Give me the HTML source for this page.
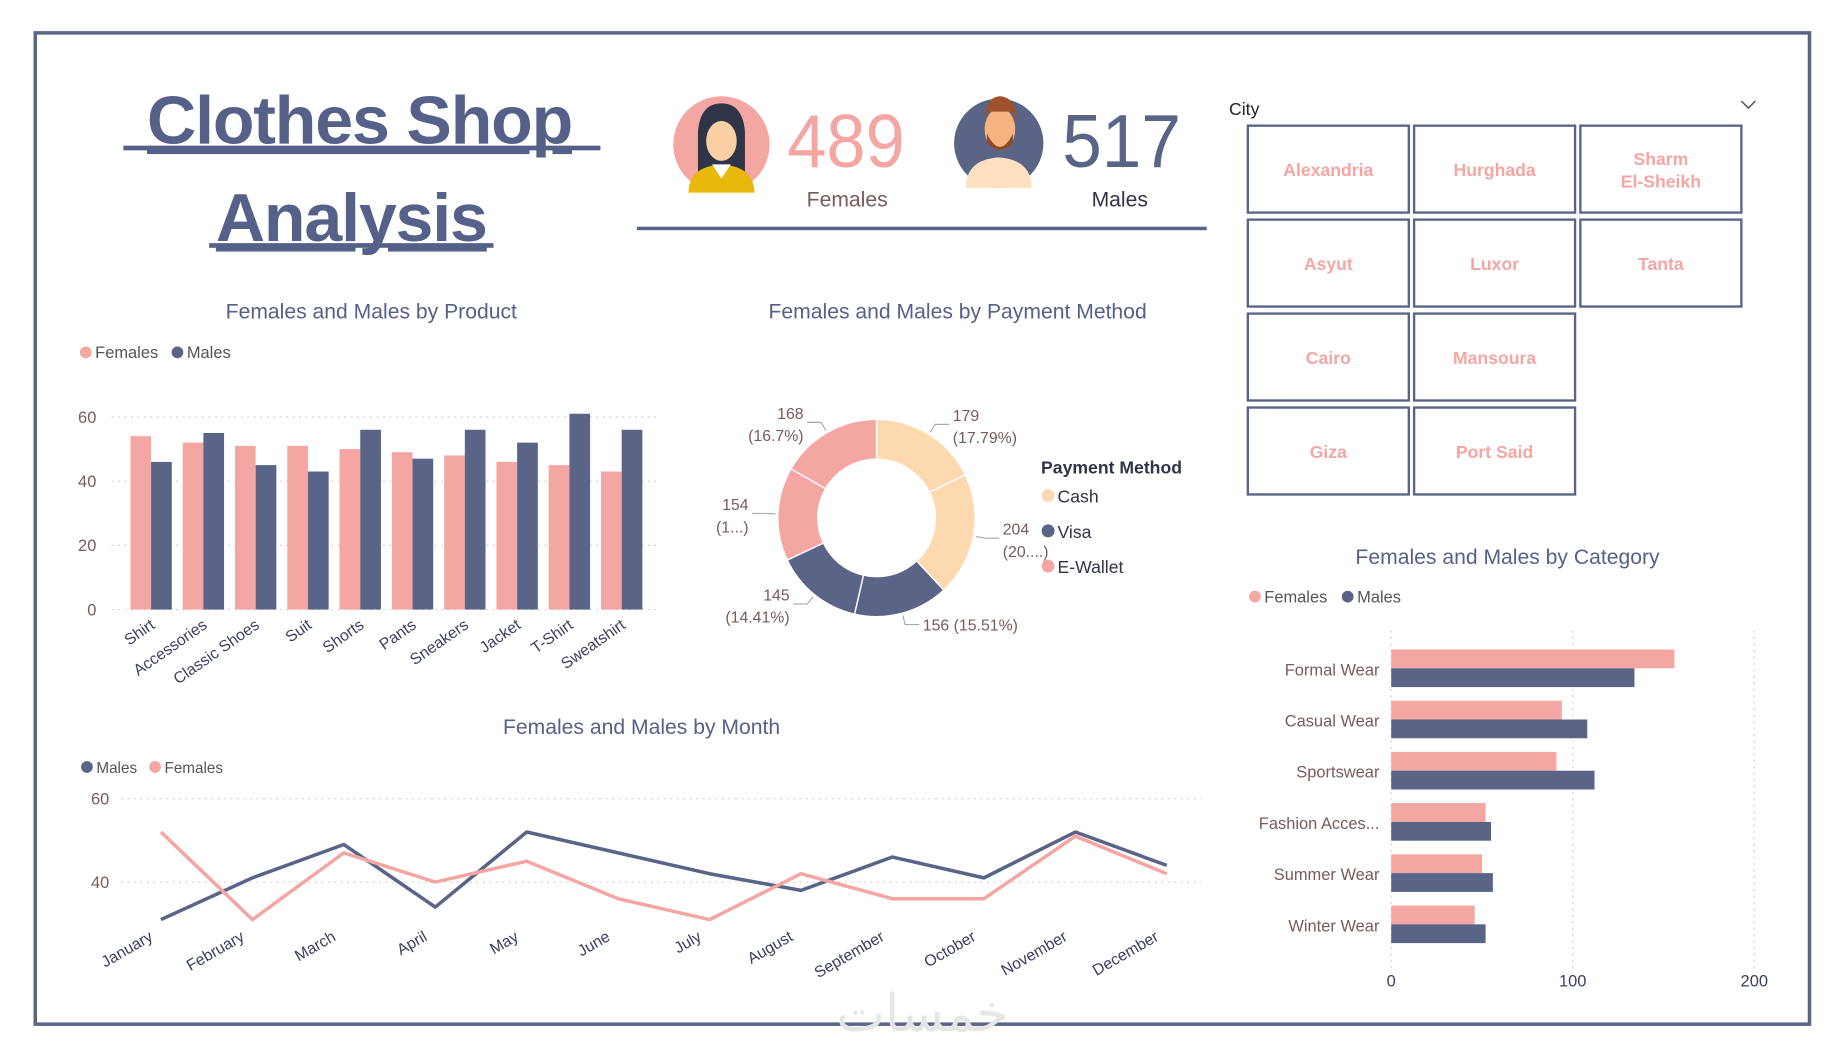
<!DOCTYPE html>
<html><head><meta charset="utf-8"><style>
html,body{margin:0;padding:0;background:#fff;width:1833px;height:1050px;overflow:hidden}
svg{display:block;font-family:"Liberation Sans","DejaVu Sans",sans-serif}
</style></head><body>
<svg id="s" width="1833" height="1050" viewBox="0 0 1560 894" preserveAspectRatio="none" xmlns="http://www.w3.org/2000/svg">
<rect x="30" y="28" width="1510" height="844" fill="none" stroke="#5a6487" stroke-width="3"/>
<g fill="#56618a" font-weight="bold" font-size="58" text-anchor="middle" text-decoration="underline" letter-spacing="-1">
<text x="306" y="122">Clothes Shop </text>
<text x="299" y="205">Analysis</text>
</g>
<rect x="105" y="124" width="406" height="4" fill="#56618a"/>
<rect x="178" y="207" width="242" height="4" fill="#56618a"/>
<g>
<circle cx="614" cy="123" r="41" fill="#f4a6a3"/>
<path d="M594 150 L594 112 Q596 88 614 88 Q632 88 634 112 L634 150 Z" fill="#2f3448"/>
<ellipse cx="614" cy="120" rx="13" ry="17" fill="#f9cfa3"/>
<path d="M586 164 Q586 142 614 140 Q642 142 642 164 Z" fill="#e8b80a"/>
<path d="M606 140 L614 152 L622 140 Z" fill="#fff"/>
</g>
<text x="670" y="142" font-size="64" fill="#f4a6a3" textLength="100" lengthAdjust="spacingAndGlyphs">489</text>
<text x="721" y="176" font-size="18" fill="#7b5a5a" text-anchor="middle">Females</text>
<g>
<circle cx="850" cy="122" r="38" fill="#5a6487"/>
<path d="M822 160 Q822 136 850 134 Q878 136 878 160 Z" fill="#fde0c0"/>
<ellipse cx="851" cy="110" rx="13" ry="18" fill="#f7b37e"/>
<path d="M838 104 Q838 82 852 82 Q866 84 865 104 L862 95 L840 95 Z" fill="#a0522d"/>
<path d="M840 114 Q851 136 862 114 L862 122 Q851 134 840 122 Z" fill="#8b4a2b"/>
</g>
<text x="904" y="142" font-size="64" fill="#5a6487" textLength="101" lengthAdjust="spacingAndGlyphs">517</text>
<text x="953" y="176" font-size="18" fill="#2f3448" text-anchor="middle">Males</text>
<rect x="542" y="193" width="485" height="3" fill="#5a6487"/>

<text x="1046" y="98" font-size="15" fill="#222">City</text>
<path d="M1482 86 L1488 92 L1494 86" fill="none" stroke="#555" stroke-width="1.3"/>
<g id="cities"></g>

<text x="316" y="271" font-size="18" fill="#56618a" text-anchor="middle">Females and Males by Product</text>
<g font-size="14" fill="#555">
<circle cx="73" cy="300" r="5" fill="#f4a6a3"/><text x="81" y="305">Females</text>
<circle cx="151" cy="300" r="5" fill="#5a6487"/><text x="159" y="305">Males</text>
</g>
<g id="prod"></g>

<text x="815" y="271" font-size="18" fill="#56618a" text-anchor="middle">Females and Males by Payment Method</text>
<g id="donut"></g>
<g font-size="15" fill="#2f3448">
<text x="886" y="403" font-weight="bold">Payment Method</text>
<circle cx="892" cy="422" r="5.5" fill="#fdd9b0"/><text x="900" y="428">Cash</text>
<circle cx="892" cy="452" r="5.5" fill="#5a6487"/><text x="900" y="458">Visa</text>
<circle cx="892" cy="482" r="5.5" fill="#f4a6a3"/><text x="900" y="488">E-Wallet</text>
</g>

<text x="546" y="625" font-size="18" fill="#56618a" text-anchor="middle">Females and Males by Month</text>
<g font-size="13" fill="#555">
<circle cx="74" cy="653" r="5" fill="#5a6487"/><text x="82" y="658">Males</text>
<circle cx="132" cy="653" r="5" fill="#f4a6a3"/><text x="140" y="658">Females</text>
</g>
<g id="month"></g>

<text x="1283" y="480" font-size="18" fill="#56618a" text-anchor="middle">Females and Males by Category</text>
<g font-size="14" fill="#555">
<circle cx="1068" cy="508" r="5" fill="#f4a6a3"/><text x="1076" y="513">Females</text>
<circle cx="1147" cy="508" r="5" fill="#5a6487"/><text x="1155" y="513">Males</text>
</g>
<g id="cat"></g>
<text x="785" y="878" font-size="44" fill="#e6e6e6" text-anchor="middle" font-family="'DejaVu Sans',sans-serif">خمسات</text>
</svg>
<script>
var NS='http://www.w3.org/2000/svg';
function mk(p,t,a,txt){var e=document.createElementNS(NS,t);for(var k in a)e.setAttribute(k,a[k]);if(txt!=null)e.textContent=txt;p.appendChild(e);return e;}

var cities=[['Alexandria','Hurghada','Sharm|El-Sheikh'],['Asyut','Luxor','Tanta'],['Cairo','Mansoura'],['Giza','Port Said']];
var productCats=['Shirt','Accessories','Classic Shoes','Suit','Shorts','Pants','Sneakers','Jacket','T-Shirt','Sweatshirt'];
var productFemales=[54,52,51,51,50,49,48,46,45,43];
var productMales=[46,55,45,43,56,47,56,52,61,56];
var productTicks=[0,20,40,60];
var payValues=[179,204,156,145,154,168];
var payMethods=['Cash','Cash','Visa','Visa','E-Wallet','E-Wallet'];
var payLabels=[['179','(17.79%)'],['204','(20....)'],['156 (15.51%)'],['145','(14.41%)'],['154','(1...)'],['168','(16.7%)']];
var months=['January','February','March','April','May','June','July','August','September','October','November','December'];
var monthMales=[31,41,49,34,52,47,42,38,46,41,52,44];
var monthFemales=[52,31,47,40,45,36,31,42,36,36,51,42];
var monthTicks=[40,60];
var catNames=['Formal Wear','Casual Wear','Sportswear','Fashion Acces...','Summer Wear','Winter Wear'];
var catFemales=[156,94,91,52,50,46];
var catMales=[134,108,112,55,56,52];
var catTicks=[0,100,200];

var cg=document.getElementById('cities');
cities.forEach(function(row,r){row.forEach(function(c,i){
 var x=1062+i*141.5,y=107+r*80;
 var g=mk(cg,'g',{});
 
 
 mk(g,'rect',{x:x,y:y,width:137,height:74,fill:'#fff',stroke:'#5a6487','stroke-width':2});
 var parts=c.split('|');
 parts.forEach(function(p,j){mk(g,'text',{x:x+68.5,y:y+43+(j-(parts.length-1)/2)*19,'font-size':15,'font-weight':'bold',fill:'#f4a6a3','text-anchor':'middle'},p);});
});});

var pg=document.getElementById('prod');
function py(v){return 519-v*(164/60);}
productTicks.forEach(function(t){
 var l=mk(pg,'line',{x1:95,x2:562,y1:py(t),y2:py(t),stroke:'#ccc','stroke-dasharray':'1.5 4'});
 
 var tx=mk(pg,'text',{x:82,y:py(t)+5,'font-size':14,fill:'#7b5a5a','text-anchor':'end'},t);
 
});
productCats.forEach(function(c,i){
 var x0=111+i*44.5,bw=17.6;
 var b1=mk(pg,'rect',{x:x0,y:py(productFemales[i]),width:bw,height:519-py(productFemales[i]),fill:'#f4a6a3'});
 
 var b2=mk(pg,'rect',{x:x0+bw,y:py(productMales[i]),width:bw,height:519-py(productMales[i]),fill:'#5a6487'});
 
 var cx=x0+bw+4;
 var t=mk(pg,'text',{x:cx,y:534,'font-size':13.5,fill:'#3b4060','text-anchor':'end',transform:'rotate(-35 '+cx+' 534)'},c);
 
});

var dg=document.getElementById('donut');
var cx=746,cy=441,R=84,r=50,tot=payValues.reduce(function(a,b){return a+b},0);
var colors={'Cash':'#fdd9b0','Visa':'#5a6487','E-Wallet':'#f4a6a3'};
var ang=0;
payValues.forEach(function(v,i){
 var a0=ang,a1=ang+v/tot*2*Math.PI;ang=a1;
 function pt(rr,a){return [cx+rr*Math.sin(a),cy-rr*Math.cos(a)];}
 var p1=pt(R,a0),p2=pt(R,a1),p3=pt(r,a1),p4=pt(r,a0),lg=(a1-a0)>Math.PI?1:0;
 var d='M'+p1+' A'+R+' '+R+' 0 '+lg+' 1 '+p2+' L'+p3+' A'+r+' '+r+' 0 '+lg+' 0 '+p4+'Z';
 var s=mk(dg,'path',{d:d,fill:colors[payMethods[i]],stroke:'#fff','stroke-width':1.2});
 
 
 var am=(a0+a1)/2,q=pt(R+2,am),q2=pt(R+10,am),right=Math.sin(am)>=0;
 var ex=q2[0]+(right?12:-12);
 mk(dg,'polyline',{points:q+' '+q2+' '+ex+','+q2[1],fill:'none',stroke:'#aaa','stroke-width':1});
 var lab=payLabels[i],tx=ex+(right?3:-3),anchor=right?'start':'end';
 var ty=lab.length>1?q2[1]-3:q2[1]+5;
 lab.forEach(function(s2,j){
  var t=mk(dg,'text',{x:tx,y:ty+j*19,'font-size':13.5,fill:'#7b5a5a','text-anchor':anchor},s2);
  
 });
});

var mg=document.getElementById('month');
function mx(i){return 137+i*(856/11);}
function my(v){return 751-(v-40)*3.55;}
monthTicks.forEach(function(t){
 var l=mk(mg,'line',{x1:103,x2:1022,y1:my(t),y2:my(t),stroke:'#ccc','stroke-dasharray':'1.5 4'});
 
 var tx=mk(mg,'text',{x:93,y:my(t)+5,'font-size':14,fill:'#7b5a5a','text-anchor':'end'},t);
 
});
function line(vals,col,name){
 var p=mk(mg,'polyline',{points:vals.map(function(v,i){return mx(i)+','+my(v)}).join(' '),fill:'none',stroke:col,'stroke-width':3,'stroke-linejoin':'round'});
 
}
line(monthMales,'#5a6487','line-males');
line(monthFemales,'#f4a6a3','line-females');
months.forEach(function(m,i){
 var x=mx(i)-6,y=800;
 var t=mk(mg,'text',{x:x,y:y,'font-size':13.5,fill:'#3b4060','text-anchor':'end',transform:'rotate(-30 '+x+' '+y+')'},m);
 
});

var kg=document.getElementById('cat');
function kx(v){return 1184+v*1.545;}
catTicks.forEach(function(t){
 var l=mk(kg,'line',{x1:kx(t),x2:kx(t),y1:537,y2:826,stroke:'#ccc','stroke-dasharray':'1.5 4'});
 
 var tx=mk(kg,'text',{x:kx(t),y:840,'font-size':14,fill:'#3b4060','text-anchor':'middle'},t);
 
});
catNames.forEach(function(c,i){
 var yc=569+i*43.6;
 var b1=mk(kg,'rect',{x:1184,y:yc-16,width:kx(catFemales[i])-1184,height:16,fill:'#f4a6a3'});
 
 var b2=mk(kg,'rect',{x:1184,y:yc,width:kx(catMales[i])-1184,height:16,fill:'#5a6487'});
 
 var t=mk(kg,'text',{x:1174,y:yc+6,'font-size':14,fill:'#7b5a5a','text-anchor':'end'},c);
 
});
</script>
</body></html>
